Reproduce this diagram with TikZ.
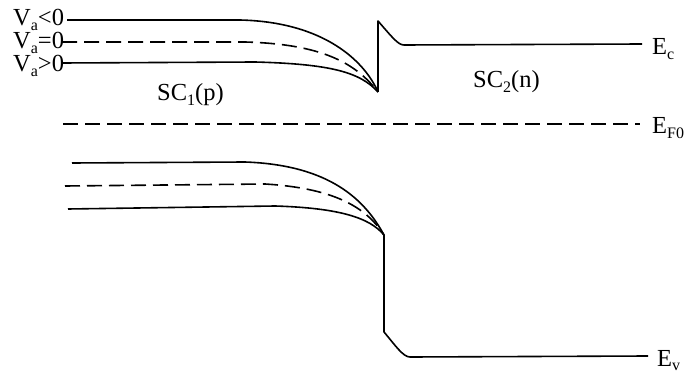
\documentclass[tikz,border=0pt]{standalone}
\usepackage{fontspec}
\setmainfont{Liberation Serif}
\newcommand\sbs[1]{\raisebox{-4.5pt}{\fontsize{16}{16}\selectfont #1}}
\begin{document}
\begin{tikzpicture}[x=1pt,y=-1pt,
  band/.style={line width=1.6pt,line join=round},
  bandd/.style={band,dash pattern=on 15pt off 7pt},
  lbl/.style={anchor=base west,inner sep=0pt,font=\fontsize{24.5}{27}\selectfont}]
\useasboundingbox (0,0) rectangle (690,374);
% labels
\node[lbl] (vn) at (13,26) {V\sbs{a}<0};
\node[lbl] (vz) at (13,49) {V\sbs{a}=0};
\node[lbl] (vp) at (13,72) {V\sbs{a}>0};
\node[lbl] (sc1) at (157,101) {SC\sbs{1}(p)};
\node[lbl] (sc2) at (473,88) {SC\sbs{2}(n)};
\node[lbl] (ec) at (652,55) {E\sbs{c}};
\node[lbl] (ef) at (652,134) {E\sbs{F0}};
\node[lbl] (ev) at (657,366) {E\sbs{v}};
% coordinates
\coordinate (cj) at (378,92);
\coordinate (vj) at (384,235);
% conduction band, p side
\draw[band] (67,20) -- (240,20) .. controls (325,22) and (365,62) .. (cj);
\draw[bandd] (62,42) -- (245,42) .. controls (320,44) and (355,62) .. (cj);
\draw[band] (62,63) -- (255,62) .. controls (330,64) and (360,72) .. (cj);
% spike and n side
\draw[band] (cj) -- (378,21) .. controls (392,37) and (398,45) .. (404,45) -- (642,44);
% Fermi level
\draw[bandd] (63,124) -- (640,124);
% valence band, p side
\draw[band] (72,163) -- (245,162) .. controls (330,165) and (365,200) .. (vj);
\draw[bandd] (65,186) -- (265,184) .. controls (330,188) and (365,205) .. (vj);
\draw[band] (68,209) -- (275,206) .. controls (340,208) and (370,218) .. (vj);
% step and n side
\draw[band] (vj) -- (384,332) .. controls (395,345) and (403,357) .. (410,357) -- (648,356);
\end{tikzpicture}
\end{document}
